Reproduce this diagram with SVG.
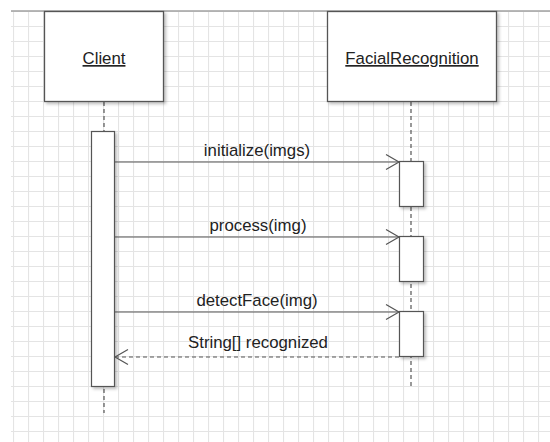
<svg xmlns="http://www.w3.org/2000/svg" width="550" height="442" viewBox="0 0 550 442">
  <defs>
    <pattern id="grid" patternUnits="userSpaceOnUse" x="13" y="11" width="15" height="15">
      <path d="M0 0.5H15M0.5 0V15" fill="none" stroke="#e4e4e4" stroke-width="1.2"/>
    </pattern>
    <filter id="shadow" x="-10%" y="-10%" width="130%" height="130%">
      <feDropShadow dx="2" dy="2" stdDeviation="1.5" flood-color="#000" flood-opacity="0.25"/>
    </filter>
    <marker id="open" markerWidth="16" markerHeight="18" refX="14" refY="8.5" orient="auto" markerUnits="userSpaceOnUse">
      <path d="M1 1L14 8.5L1 16" fill="none" stroke="#555" stroke-width="1.2"/>
    </marker>
  </defs>
  <style>
    .box{fill:#fff;stroke:#555;stroke-width:1.3;filter:url(#shadow)}
    .act{fill:#fff;stroke:#555;stroke-width:1.2;filter:url(#shadow)}
    .life{stroke:#555;stroke-width:1.2;stroke-dasharray:4 3;fill:none}
    .msg{stroke:#555;stroke-width:1.2;fill:none;marker-end:url(#open)}
    .ret{stroke-dasharray:4 3}
    text{font-family:"Liberation Sans",Arial,sans-serif;font-size:16.8px;fill:#222;text-anchor:middle}
    .name{text-decoration:underline}
  </style>
  <rect x="0" y="0" width="550" height="442" fill="#fff"/>
  <rect x="11" y="11" width="539" height="431" fill="url(#grid)"/>
  <line x1="11" y1="11" x2="550" y2="11" stroke="#a0a0a0" stroke-width="1.6"/>

  <g id="lifelines">
    <line class="life" x1="104" y1="102" x2="104" y2="413"/>
    <line class="life" x1="411" y1="102" x2="411" y2="386"/>
  </g>

  <g id="client">
    <rect class="box" x="44.5" y="11.5" width="119" height="90"/>
    <text class="name" x="104" y="64">Client</text>
    <rect class="act" x="91.5" y="131.5" width="23" height="255"/>
  </g>

  <g id="facialRecognition">
    <rect class="box" x="327.5" y="11.5" width="169" height="90"/>
    <text class="name" x="412" y="64">FacialRecognition</text>
    <rect class="act" x="399.5" y="161.5" width="24" height="45"/>
    <rect class="act" x="399.5" y="236.5" width="24" height="45"/>
    <rect class="act" x="399.5" y="311.5" width="24" height="45"/>
  </g>

  <g id="connectors">
    <line class="msg" x1="115" y1="162" x2="399" y2="162"/>
    <text x="257" y="156">initialize(imgs)</text>
    <line class="msg" x1="115" y1="237" x2="399" y2="237"/>
    <text x="258" y="231">process(img)</text>
    <line class="msg" x1="115" y1="312" x2="399" y2="312"/>
    <text x="257" y="306">detectFace(img)</text>
    <line class="msg ret" x1="399" y1="357" x2="115" y2="357"/>
    <text x="258" y="348">String[] recognized</text>
  </g>
</svg>
